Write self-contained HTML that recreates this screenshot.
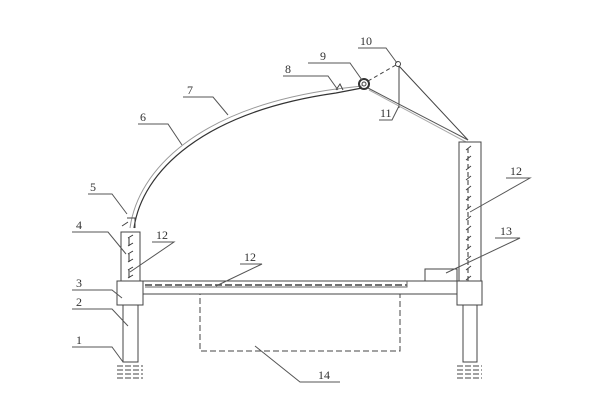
<!DOCTYPE html>
<html><head><style>body{margin:0;background:#fff}svg{display:block}text{font-family:"Liberation Serif",serif;font-size:12px;fill:#333}</style></head>
<body>
<svg width="600" height="420" viewBox="0 0 600 420" fill="none" stroke="#444" stroke-width="1">
<!-- arch -->
<path d="M130,228 C138,170 198,108 336,89 L362,86" stroke="#999" stroke-width="1"/>
<path d="M134,228 C142,172 202,112 336,93 L362,88" stroke="#333" stroke-width="1.2"/>
<!-- roller, point 10 -->
<circle cx="364" cy="84" r="5" stroke="#333" stroke-width="2"/>
<circle cx="364" cy="84" r="2" />
<circle cx="398" cy="64" r="2.5"/>
<path d="M368,81 L396,65" stroke-dasharray="4,3"/>
<path d="M399,66 L468,140"/>
<path d="M399,66 L399,108"/>
<path d="M368,88 L468,140" stroke="#555"/>
<path d="M369,90 L466,142" stroke="#aaa"/>
<path d="M336,90 l4,-6 l3,6" />
<path d="M128,222 l-6,4 M127,218 h8 v10" />
<!-- left column -->
<rect x="121" y="232" width="19" height="49"/>
<path d="M128,238 l5,-3 M128,246 l5,-3 M128,254 l5,-3 M128,262 l5,-3 M128,270 l5,-3 M128,278 l5,-3 M129,238v8 M129,254v8 M129,270v8" stroke="#333"/>
<rect x="117" y="281" width="26" height="24"/>
<rect x="123" y="305" width="15" height="57"/>
<path d="M117,366h26 M117,370h26 M117,374h26 M117,378h26" stroke-dasharray="6,2"/>
<!-- right column -->
<rect x="459" y="142" width="22" height="139"/>
<path d="M468,148 v136" stroke-dasharray="5,3" stroke="#333"/>
<path d="M466,150l5,-4 M466,160l5,-4 M466,170l5,-4 M466,180l5,-4 M466,190l5,-4 M466,200l5,-4 M466,210l5,-4 M466,220l5,-4 M466,230l5,-4 M466,240l5,-4 M466,250l5,-4 M466,260l5,-4 M466,270l5,-4 M466,280l5,-4"/>
<rect x="457" y="281" width="25" height="24"/>
<rect x="463" y="305" width="14" height="57"/>
<path d="M457,366h25 M457,370h25 M457,374h25 M457,378h25" stroke-dasharray="6,2"/>
<!-- platform -->
<path d="M143,281 H457 M143,294 H457"/>
<path d="M145,285 H407" stroke-dasharray="7,3" stroke-width="1.5"/>
<path d="M407,281 v6 H145" stroke="#666"/>
<rect x="425" y="269" width="32" height="12"/>
<rect x="200" y="294" width="200" height="57" stroke-dasharray="6,3"/>
<!-- leaders -->
<g stroke="#555">
<path d="M72,347H112L123,362"/>
<path d="M72,309H112L128,326"/>
<path d="M72,290H112L122,298"/>
<path d="M72,232H108L126,254"/>
<path d="M88,194H112L127,214"/>
<path d="M138,124H168L182,145"/>
<path d="M183,97H213L228,115"/>
<path d="M283,76H328L338,90"/>
<path d="M308,63H350L362,80"/>
<path d="M358,48H386L397,63"/>
<path d="M379,120H392L399,106"/>
<path d="M152,242H174L130,272"/>
<path d="M240,264H262L216,286"/>
<path d="M506,178H530L470,212"/>
<path d="M495,238H520L446,273"/>
<path d="M255,346L300,382H340"/>
</g>
<g stroke="none">
<text x="76" y="344">1</text><text x="76" y="306">2</text><text x="76" y="287">3</text>
<text x="76" y="229">4</text><text x="90" y="191">5</text><text x="140" y="121">6</text>
<text x="187" y="94">7</text><text x="285" y="73">8</text><text x="320" y="60">9</text>
<text x="360" y="45">10</text><text x="380" y="117">11</text>
<text x="156" y="239">12</text><text x="244" y="261">12</text><text x="510" y="175">12</text>
<text x="500" y="235">13</text><text x="318" y="379">14</text>
</g>
</svg>
</body></html>
